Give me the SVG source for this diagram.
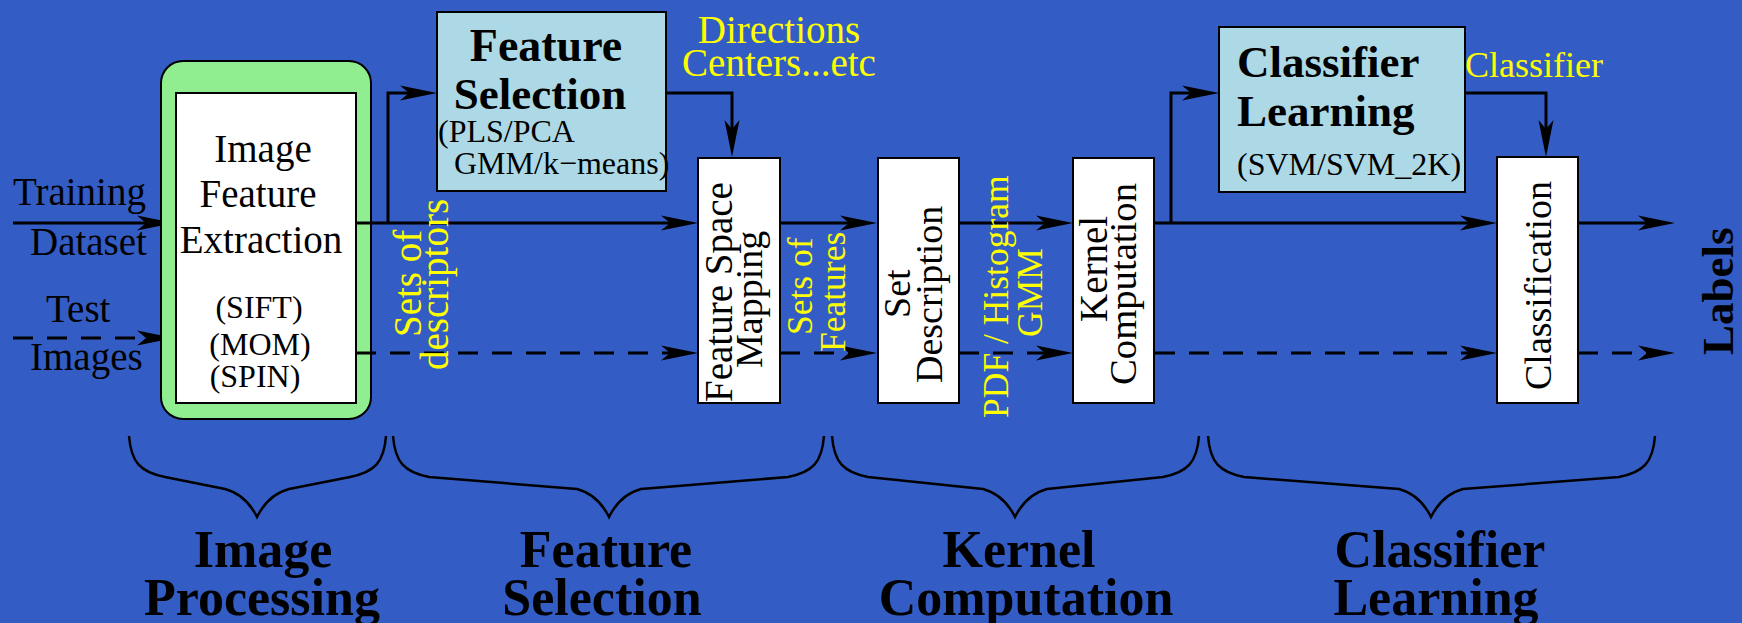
<svg xmlns="http://www.w3.org/2000/svg" width="1742" height="623" viewBox="0 0 1742 623">
<style>
text{font-family:"Liberation Serif","Times New Roman",serif;fill:#000}
.b{font-weight:bold}
.y{fill:#ffff00}
.m{text-anchor:middle}
.box{fill:#fff;stroke:#000;stroke-width:2}
.lb{fill:#add8e6;stroke:#000;stroke-width:2}
.ln{fill:none;stroke:#000;stroke-width:3}
.d{stroke-dasharray:20 14}
.br{fill:none;stroke:#000;stroke-width:2.5}
</style>
<defs>
<marker id="ah" viewBox="-26 -8 40 16" markerWidth="40" markerHeight="16" refX="0" refY="0" orient="auto" markerUnits="userSpaceOnUse">
<path d="M12,0 L-25,-7.5 L-16,0 L-25,7.5 Z" fill="#000"/>
</marker>
</defs>
<rect width="1742" height="623" fill="#335dc4"/>

<g id="connectors">
<path class="ln" d="M13,223 H162" marker-end="url(#ah)"/>
<path class="ln d" d="M13,338 H162" marker-end="url(#ah)"/>
<path class="ln" d="M356,223 H686" marker-end="url(#ah)"/>
<path class="ln" d="M388,223 V93 H425" marker-end="url(#ah)"/>
<path class="ln" d="M666,93 H732 V145" marker-end="url(#ah)"/>
<path class="ln" d="M780,223 H865" marker-end="url(#ah)"/>
<path class="ln" d="M959,223 H1061" marker-end="url(#ah)"/>
<path class="ln" d="M1155,223 H1485" marker-end="url(#ah)"/>
<path class="ln" d="M1171,223 V93 H1207" marker-end="url(#ah)"/>
<path class="ln" d="M1465,93 H1546 V145" marker-end="url(#ah)"/>
<path class="ln" d="M1578,223 H1663" marker-end="url(#ah)"/>
<path class="ln d" d="M356,353 H686" marker-end="url(#ah)"/>
<path class="ln d" d="M780,353 H865" marker-end="url(#ah)"/>
<path class="ln d" d="M959,353 H1061" marker-end="url(#ah)"/>
<path class="ln d" d="M1155,353 H1485" marker-end="url(#ah)"/>
<path class="ln d" d="M1578,353 H1663" marker-end="url(#ah)"/>
</g>

<g id="inputs">
<text x="13" y="205" font-size="39">Training</text>
<text x="30" y="255" font-size="39">Dataset</text>
<text x="46" y="322" font-size="39">Test</text>
<text x="30" y="370" font-size="39">Images</text>
</g>

<g id="image-feature-extraction">
<rect x="161" y="61" width="210" height="358" rx="22" fill="#90ee90" stroke="#000" stroke-width="2"/>
<rect class="box" x="176" y="93" width="180" height="310"/>
<path class="ln" d="M356,223 H371"/>
<path class="ln d" d="M356,353 H371"/>
<text class="m" x="263" y="162" font-size="39">Image</text>
<text class="m" x="258" y="207" font-size="39">Feature</text>
<text class="m" x="261" y="253" font-size="39">Extraction</text>
<text class="m" x="259" y="318" font-size="32">(SIFT)</text>
<text class="m" x="260" y="355" font-size="32">(MOM)</text>
<text class="m" x="255" y="387" font-size="32">(SPIN)</text>
</g>

<g id="sets-of-descriptors">
<text class="y" font-size="39" transform="translate(421,337) rotate(-90)">Sets of</text>
<text class="y" font-size="39" transform="translate(448,370) rotate(-90)">descriptors</text>
</g>

<g id="feature-selection">
<rect class="lb" x="437" y="12" width="229" height="179"/>
<text class="b m" x="546" y="61" font-size="46">Feature</text>
<text class="b m" x="540" y="109" font-size="45">Selection</text>
<text x="438" y="142" font-size="32">(PLS/PCA</text>
<text x="454" y="174" font-size="32">GMM/k−means)</text>
</g>

<g id="directions-label">
<text class="y m" x="779" y="43" font-size="39">Directions</text>
<text class="y m" x="779" y="76" font-size="39">Centers...etc</text>
</g>

<g id="feature-space-mapping">
<rect class="box" x="698" y="158" width="82" height="245"/>
<text font-size="39" transform="translate(732,402) rotate(-90)">Feature Space</text>
<text font-size="38" transform="translate(762,368) rotate(-90)">Mapping</text>
</g>

<g id="sets-of-features">
<text class="y" font-size="35.5" transform="translate(812,335) rotate(-90)">Sets of</text>
<text class="y" font-size="35.5" transform="translate(845,352) rotate(-90)">Features</text>
</g>

<g id="set-description">
<rect class="box" x="878" y="158" width="81" height="245"/>
<text font-size="38" transform="translate(910,318) rotate(-90)">Set</text>
<text font-size="38" transform="translate(942,383) rotate(-90)">Description</text>
</g>

<g id="pdf-label">
<text class="y" font-size="35.5" transform="translate(1008,418) rotate(-90)">PDF / Histogram</text>
<text class="y" font-size="35.5" transform="translate(1042,337) rotate(-90)">GMM</text>
</g>

<g id="kernel-computation">
<rect class="box" x="1073" y="158" width="81" height="245"/>
<text font-size="39" transform="translate(1107,322) rotate(-90)">Kernel</text>
<text font-size="38.7" transform="translate(1136,385) rotate(-90)">Computation</text>
</g>

<g id="classifier-learning">
<rect class="lb" x="1219" y="27" width="246" height="165"/>
<text class="b" x="1237" y="77" font-size="45">Classifier</text>
<text class="b" x="1237" y="126" font-size="45">Learning</text>
<text x="1237" y="175" font-size="32">(SVM/SVM_2K)</text>
</g>

<g id="classifier-label">
<text class="y" x="1465" y="77" font-size="36">Classifier</text>
</g>

<g id="classification">
<rect class="box" x="1497" y="157" width="81" height="246"/>
<text font-size="38" transform="translate(1551,390) rotate(-90)">Classification</text>
</g>

<g id="labels">
<text class="b" font-size="45" transform="translate(1733,355) rotate(-90)">Labels</text>
</g>

<g id="braces">
<path class="br" d="M129,436 c2,26 11,36 36,41 L225,489 c15,4 25,14 32,28 c7,-14 17,-24 32,-28 L350,477 c25,-5 34,-15 36,-41"/>
<path class="br" d="M393,436 c2,26 11,36 36,41 L577,489 c15,4 25,14 32,28 c7,-14 17,-24 32,-28 L788,477 c25,-5 34,-15 36,-41"/>
<path class="br" d="M832,436 c2,26 11,36 36,41 L983,489 c15,4 25,14 32,28 c7,-14 17,-24 32,-28 L1163,477 c25,-5 34,-15 36,-41"/>
<path class="br" d="M1208,436 c2,26 11,36 36,41 L1399,489 c15,4 25,14 32,28 c7,-14 17,-24 32,-28 L1619,477 c25,-5 34,-15 36,-41"/>
</g>

<g id="stage-labels">
<text class="b m" x="263" y="567" font-size="52">Image</text>
<text class="b m" x="262" y="615" font-size="52">Processing</text>
<text class="b m" x="606" y="567" font-size="52">Feature</text>
<text class="b m" x="602" y="615" font-size="52">Selection</text>
<text class="b m" x="1019" y="567" font-size="52">Kernel</text>
<text class="b m" x="1026" y="615" font-size="52">Computation</text>
<text class="b m" x="1440" y="567" font-size="52">Classifier</text>
<text class="b m" x="1436" y="615" font-size="52">Learning</text>
</g>
</svg>
